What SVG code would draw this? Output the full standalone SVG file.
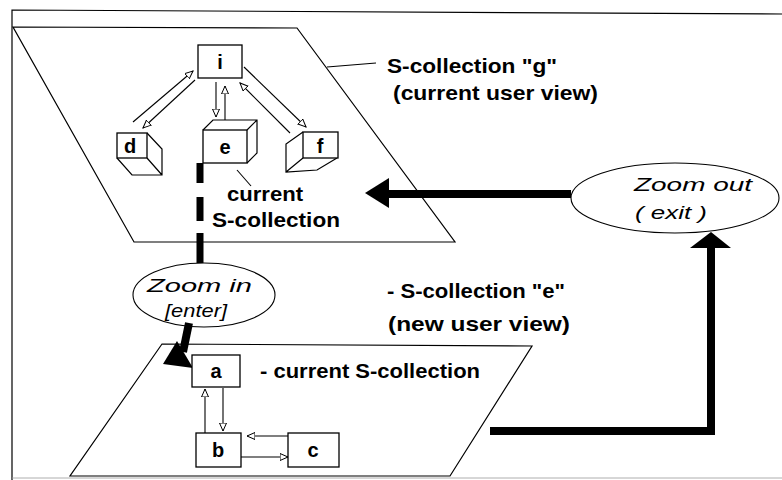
<svg xmlns="http://www.w3.org/2000/svg" width="782" height="480" viewBox="0 0 782 480">
  <style>
    .thin { fill: none; stroke: #000; stroke-width: 1.2; }
    .box { fill: #fff; stroke: #000; stroke-width: 1.3; }
    .edge { fill: none; stroke: #000; stroke-width: 1.1; }
    .lbl { font-family: "Liberation Sans", Arial, sans-serif; font-weight: bold; font-size: 21px; fill: #000; }
    .node { font-family: "Liberation Sans", Arial, sans-serif; font-weight: bold; font-size: 20px; fill: #000; text-anchor: middle; }
    .ital { font-family: "Liberation Sans", Arial, sans-serif; font-style: italic; font-size: 19px; fill: #000; }
    .heavy { fill: none; stroke: #000; stroke-width: 8; }
  </style>
  <defs>
    <marker id="open" markerUnits="userSpaceOnUse" markerWidth="10" markerHeight="10" refX="8" refY="4" orient="auto">
      <path d="M0,0.5 L8,4 L0,7.5 z" fill="#fff" stroke="#000" stroke-width="1"/>
    </marker>
  </defs>

  <rect width="782" height="480" fill="#fff"/>

  <!-- outer frame -->
  <g id="frame" class="thin">
    <path d="M12,480 L12,10 L782,14"/>
    <path d="M12,478 L782,478" stroke="#999" stroke-width="0.8"/>
  </g>

  <!-- collection planes -->
  <g id="plane-g" class="thin">
    <path d="M13,27 L297,28 L455,242 L134,242 Z"/>
  </g>
  <g id="plane-e" class="thin">
    <path d="M162,344 L532,346 L450,476 L70,476 Z"/>
  </g>

  <!-- thin connectors and heavy flow arrows -->
  <g id="connectors">
    <!-- inside collection g -->
    <line class="edge" x1="133" y1="122" x2="193" y2="71" marker-end="url(#open)"/>
    <line class="edge" x1="195" y1="80" x2="143" y2="128" marker-end="url(#open)"/>
    <line class="edge" x1="216" y1="82" x2="216" y2="117" marker-end="url(#open)"/>
    <line class="edge" x1="225" y1="120" x2="225" y2="86" marker-end="url(#open)"/>
    <line class="edge" x1="244" y1="67" x2="306" y2="127" marker-end="url(#open)"/>
    <line class="edge" x1="290" y1="133" x2="240" y2="83" marker-end="url(#open)"/>
    <!-- inside collection e -->
    <line class="edge" x1="205" y1="433" x2="205" y2="389" marker-end="url(#open)"/>
    <line class="edge" x1="223" y1="388" x2="223" y2="431" marker-end="url(#open)"/>
    <line class="edge" x1="288" y1="436" x2="247" y2="436" marker-end="url(#open)"/>
    <line class="edge" x1="240" y1="457" x2="288" y2="457" marker-end="url(#open)"/>
    <!-- leader lines -->
    <path class="edge" d="M327,67 L376,63"/>
    <path class="edge" d="M237,170 L251,186"/>
    <!-- zoom in: from e down to the ellipse, then to a -->
    <path d="M200,163 L200,263" fill="none" stroke="#000" stroke-width="7" stroke-dasharray="20 14 24 12 60"/>
    <path class="heavy" d="M189,323 L183,352"/>
    <path d="M163,364 L177,341 L193,368 Z" fill="#000"/>
    <!-- zoom out: from collection e to the ellipse, then back to g -->
    <path class="heavy" d="M490,431 L711,431 L711,246"/>
    <path d="M711,232 L731,248 L690,248 Z" fill="#000"/>
    <path class="heavy" d="M571,194 L388,194"/>
    <path d="M365,193 L389,178 L389,208 Z" fill="#000"/>
  </g>

  <!-- nodes of collection g -->
  <g id="node-i">
    <rect class="box" x="198" y="45" width="44" height="33"/>
    <text class="node" x="220" y="69">i</text>
  </g>
  <g id="node-d">
    <path class="thin" d="M147,133 L162,149 L162,175 L132,175 L117,158 M147,158 L162,175"/>
    <rect class="box" x="117" y="133" width="30" height="25"/>
    <text class="node" x="130" y="153">d</text>
  </g>
  <g id="node-e">
    <path class="thin" d="M203,130 L213,120 L257,120 L257,153 L247,163 M247,130 L257,120"/>
    <rect class="box" x="203" y="130" width="44" height="33"/>
    <text class="node" x="225" y="154">e</text>
  </g>
  <g id="node-f">
    <path class="thin" d="M303,132 L286,144 L286,172 L317,170 L337,158 M303,158 L286,172"/>
    <rect class="box" x="303" y="132" width="35" height="26"/>
    <text class="node" x="320" y="153">f</text>
  </g>

  <!-- nodes of collection e -->
  <g id="node-a">
    <rect class="box" x="192" y="355" width="48" height="32"/>
    <text class="node" x="216" y="378">a</text>
  </g>
  <g id="node-b">
    <rect class="box" x="196" y="433" width="45" height="34"/>
    <text class="node" x="218" y="457">b</text>
  </g>
  <g id="node-c">
    <rect class="box" x="288" y="433" width="51" height="34"/>
    <text class="node" x="313" y="457">c</text>
  </g>

  <!-- zoom actions -->
  <g id="zoom-in">
    <ellipse cx="204" cy="295" rx="71" ry="32" fill="none" stroke="#000" stroke-width="1.1"/>
    <text class="ital" x="147" y="292" textLength="105" lengthAdjust="spacingAndGlyphs">Zoom in</text>
    <text class="ital" x="165" y="317" textLength="62" lengthAdjust="spacingAndGlyphs">[enter]</text>
  </g>
  <g id="zoom-out">
    <ellipse cx="675" cy="198" rx="104" ry="35" fill="#fff" stroke="#000" stroke-width="1.1"/>
    <text class="ital" x="634" y="191" textLength="118" lengthAdjust="spacingAndGlyphs">Zoom  out</text>
    <text class="ital" x="635" y="219" textLength="72" lengthAdjust="spacingAndGlyphs">( exit )</text>
  </g>

  <!-- labels -->
  <g id="labels" class="lbl">
    <text x="387" y="73" textLength="170" lengthAdjust="spacingAndGlyphs">S-collection "g"</text>
    <text x="393" y="100" textLength="205" lengthAdjust="spacingAndGlyphs">(current user view)</text>
    <text x="227" y="201" textLength="76" lengthAdjust="spacingAndGlyphs">current</text>
    <text x="212" y="227" textLength="128" lengthAdjust="spacingAndGlyphs">S-collection</text>
    <text x="387" y="298" textLength="178" lengthAdjust="spacingAndGlyphs">- S-collection "e"</text>
    <text x="388" y="331" textLength="182" lengthAdjust="spacingAndGlyphs">(new  user view)</text>
    <text x="260" y="378" textLength="220" lengthAdjust="spacingAndGlyphs">- current S-collection</text>
  </g>
</svg>
